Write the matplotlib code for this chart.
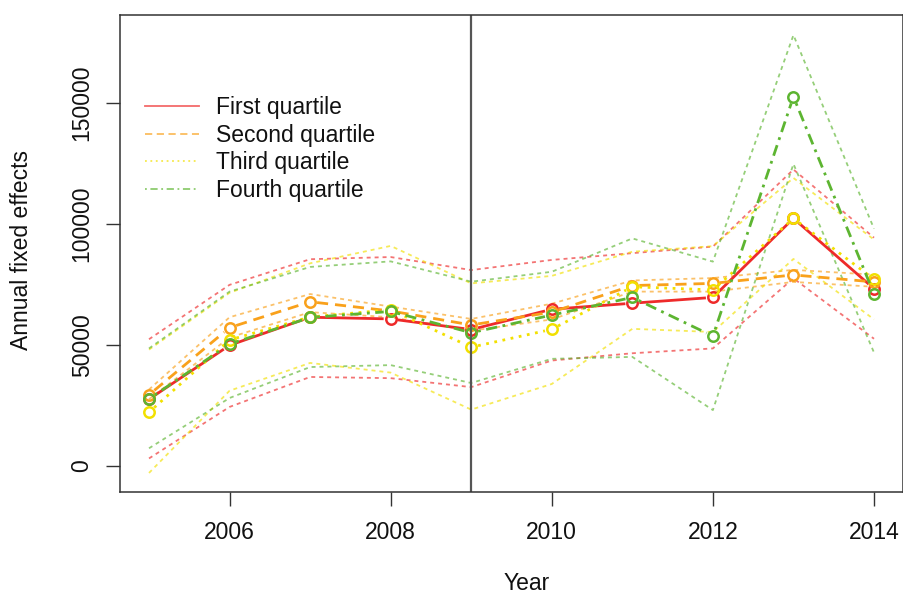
import numpy as np
import matplotlib
matplotlib.use("Agg")
import matplotlib.pyplot as plt
from matplotlib.lines import Line2D

plt.rcParams['font.family'] = ['Liberation Sans', 'DejaVu Sans']

years = np.arange(2005, 2015)

# estimates and band bounds per quartile
first = [27500, 49800, 61400, 60700, 56300, 64700, 67200, 69600, 102300, 73200]
first_lo = [3000, 24300, 36700, 36200, 32500, 43500, 46500, 48500, 77500, 52500]
first_hi = [52300, 74800, 85400, 86300, 80900, 85100, 87900, 90600, 122500, 94300]

second = [29300, 57100, 67800, 64000, 58200, 63500, 74500, 75400, 78900, 76000]
second_lo = [27500, 53000, 63500, 61400, 55800, 60500, 72000, 72000, 76000, 74000]
second_hi = [31500, 61400, 71000, 65800, 60700, 67000, 76600, 77600, 81000, 79000]

third = [22100, 52000, 61500, 64500, 49000, 56400, 74000, 72700, 102300, 77100]
third_lo = [-3000, 31000, 42500, 38500, 23200, 33800, 56600, 55300, 85500, 60500]
third_hi = [48000, 71500, 83700, 90900, 75400, 78500, 88500, 90800, 119000, 93500]

fourth = [27600, 50300, 61300, 63800, 55000, 62300, 69600, 53600, 152600, 71000]
fourth_lo = [7200, 28000, 40800, 41600, 34200, 44200, 45000, 23000, 124800, 46800]
fourth_hi = [48500, 72000, 82200, 84500, 76100, 80200, 94000, 84400, 178100, 98000]

labels = ['First quartile', 'Second quartile', 'Third quartile', 'Fourth quartile']
colors = ['#EE2A2A', '#F9A11B', '#F2E000', '#5DB531']
styles = ['-', (0, (4, 2.5)), (0, (1, 2)), (0, (1, 2, 4, 2))]

series = [(first, first_lo, first_hi),
          (second, second_lo, second_hi),
          (third, third_lo, third_hi),
          (fourth, fourth_lo, fourth_hi)]

fig = plt.figure(figsize=(9.04, 5.95), dpi=100)
ax = fig.add_axes([120 / 904, 103 / 595, 783 / 904, 477 / 595])
ax.set_xlim(2004.64, 2014.36)
ax.set_ylim(-10880, 186400)


def plot_b(ax, x, y, color, ls, lw, gap=7):
    # mimic R's type="b": segments stop short of the points
    tr = ax.transData
    pts = tr.transform(np.column_stack([x, y]))
    for p0, p1 in zip(pts[:-1], pts[1:]):
        d = p1 - p0
        L = np.hypot(*d)
        if L <= 2 * gap:
            continue
        u = d / L
        a = tr.inverted().transform([p0 + u * gap, p1 - u * gap])
        ax.plot(a[:, 0], a[:, 1], color=color, ls=ls, lw=lw, solid_capstyle='butt')


for (mid, lo, hi), c, st in zip(series, colors, styles):
    ax.plot(years, lo, color=c, ls=(0, (2.2, 2.2)), lw=1.3, alpha=0.65)
    ax.plot(years, hi, color=c, ls=(0, (2.2, 2.2)), lw=1.3, alpha=0.65)

for (mid, lo, hi), c, st in zip(series, colors, styles):
    plot_b(ax, years, mid, c, st, 2.0)
    ax.plot(years, mid, ls='none', marker='o', ms=7.5, mfc='none', mec=c, mew=1.8)

ax.axvline(2009, color='#555555', lw=1.6)

ax.set_xticks([2006, 2008, 2010, 2012, 2014])
ax.set_yticks([0, 50000, 100000, 150000])
ax.set_yticklabels(['0', '50000', '100000', '150000'], rotation=90, va='center')
ax.tick_params(direction='out', length=10, width=1, colors='#333333', labelcolor='#111111',
               labelsize=16.5)
ax.tick_params(axis='x', pad=11)
ax.tick_params(axis='y', pad=9)
for s in ax.spines.values():
    s.set_color('#333333')
    s.set_linewidth(1.1)

fig.text(527 / 904, 1 - 583 / 595, 'Year', ha='center', va='center', fontsize=16.5, color='#111111')
fig.text(22 / 904, 1 - 250 / 595, 'Annual fixed effects', ha='center', va='center',
         rotation=90, fontsize=16.5, color='#111111')

handles = [Line2D([], [], color=c, ls=st, lw=1.3, alpha=0.7) for c, st in zip(colors, styles)]
ax.legend(handles, labels, loc='upper left', bbox_to_anchor=(25 / 783, (492 - 96) / 477),
          frameon=False, fontsize=16.5, handlelength=2.35, handletextpad=0.75,
          labelspacing=0.2, borderpad=0, borderaxespad=0, labelcolor='#111111')

fig.savefig('out.png', dpi=100)
